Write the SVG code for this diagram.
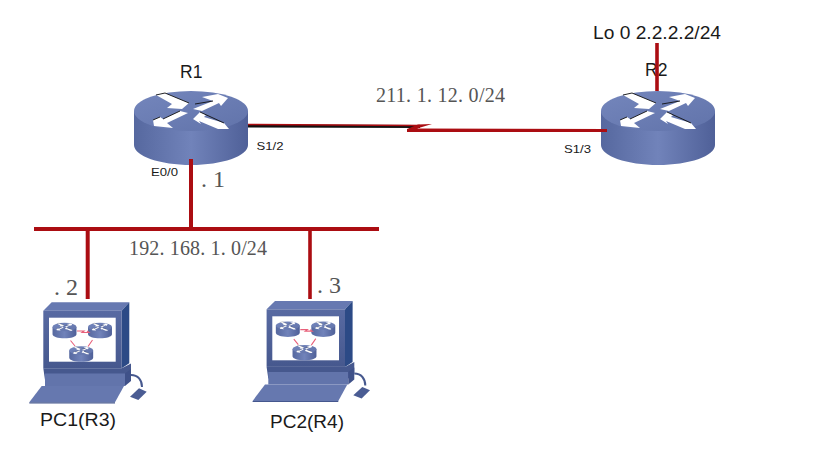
<svg xmlns="http://www.w3.org/2000/svg" xmlns:xlink="http://www.w3.org/1999/xlink" width="829" height="463" viewBox="0 0 829 463">
<style>
.sans{font-family:"Liberation Sans",Arial,sans-serif;fill:#1a1a1a}
.serif{font-family:"Liberation Serif","Times New Roman",serif;fill:#555}
.link{fill:none;stroke:#ab0d12;stroke-linecap:butt;stroke-linejoin:miter}
.edge{fill:none;stroke:#111;stroke-width:.9}
</style>
<defs>
<linearGradient id="side" x1="0" y1="0" x2="1" y2="0">
<stop offset="0" stop-color="#56689f"/><stop offset=".5" stop-color="#7183ba"/><stop offset="1" stop-color="#4f6098"/>
</linearGradient>
<linearGradient id="top" x1="0" y1="0" x2="1" y2="1">
<stop offset="0" stop-color="#7486bc"/><stop offset="1" stop-color="#6173aa"/>
</linearGradient>
<linearGradient id="face" x1="0" y1="0" x2="0" y2="1">
<stop offset="0" stop-color="#586aa2"/><stop offset="1" stop-color="#46588e"/>
</linearGradient>
<g id="router">
<path d="M-57 0V34C-57 45-31 54 0 54S57 45 57 34V0Z" fill="url(#side)"/>
<ellipse cx="0" cy="0" rx="57" ry="20" fill="url(#top)"/>
<path d="M-35-16L-26-18L-2-8L-9-2L-24-3L-19-7Z" fill="#fff"/>
<path d="M37-13L27-17L11-14L22-10L2-2L11 0L28-8L30-5Z" fill="#fff"/>
<path d="M-38 9L-31 6L-28 8L-11 0L-3 2L-24 12L-18 17L-37 15Z" fill="#fff"/>
<path d="M2 8L9 1L15 4L13 6L33 12L38 18L27 18L8 10L10 13Z" fill="#fff"/>
<path class="edge" d="M-35-16L-26-18L-2-8M-38 9L-31 6M-28 8L-11 0M9 1L33 12M4-7L22-10"/>
</g>
<g id="pc">
<path d="M43.3 310.7L51.7 302.3H129.3L121.7 310.7Z" fill="#6779b1"/>
<path d="M121.7 310.7L129.3 302.3V363.3L121.7 368.3Z" fill="#2c4a86"/>
<rect x="43.3" y="310.7" width="78.4" height="57.6" fill="url(#face)"/>
<rect x="49" y="317.700" width="66.700" height="44" fill="#fff"/>
<path d="M43.3 368.300H121.700L131 363.500V375L125 380H45Z" fill="#46588e"/>
<path d="M45 373.500H125V386H45Z" fill="#6274ab"/>
<path d="M125 373.500L131 369V381L125 386Z" fill="#3f5189"/>
<path d="M29.300 402.300L41.700 386H124L115 402.300Z" fill="#6678af"/>
<path d="M29.300 402.300H115V403.500H29.300Z" fill="#45578e"/>
<path d="M131 375C138 375 142 380 142 387" fill="none" stroke="#46588e" stroke-width="2"/>
<path d="M130 396.700L139 388.300L146.700 391.700L138.300 400Z" fill="#4a5c93"/>
<use xlink:href="#router" href="#router" transform="translate(64.500 327) scale(.21)"/>
<use xlink:href="#router" href="#router" transform="translate(100 327) scale(.21)"/>
<use xlink:href="#router" href="#router" transform="translate(81.200 350.500) scale(.21)"/>
<path d="M77 331H84L82 332.500H89L87 331M70.500 340.500L75 346M92.500 340L88 346.500" fill="none" stroke="#e8607a" stroke-width="1.100"/>
</g>
</defs>
<g id="R1">
<use xlink:href="#router" href="#router" transform="translate(191 111)"/>
<text class="sans" x="180" y="78" font-size="17.500">R1</text>
<text class="sans" x="256.500" y="150" font-size="11" textLength="27" lengthAdjust="spacingAndGlyphs">S1/2</text>
<text class="sans" x="151" y="176" font-size="11" textLength="27" lengthAdjust="spacingAndGlyphs">E0/0</text>
<text class="serif" x="201" y="187" font-size="24">. 1</text>
</g>
<g id="R2">
<use xlink:href="#router" href="#router" transform="translate(658 111)"/>
<text class="sans" x="645" y="76" font-size="17.500">R2</text>
<text class="sans" x="564" y="153" font-size="11" textLength="27" lengthAdjust="spacingAndGlyphs">S1/3</text>
<text class="sans" x="593" y="39" font-size="17.500" textLength="128" lengthAdjust="spacingAndGlyphs">Lo 0 2.2.2.2/24</text>
</g>
<g id="PC1">
<use xlink:href="#pc" href="#pc"/>
<text class="sans" x="40" y="426" font-size="18" textLength="76" lengthAdjust="spacingAndGlyphs">PC1(R3)</text>
<text class="serif" x="54" y="295" font-size="24">. 2</text>
</g>
<g id="PC2">
<use xlink:href="#pc" href="#pc" transform="translate(223.300 -1.400)"/>
<text class="sans" x="270" y="428" font-size="18" textLength="74" lengthAdjust="spacingAndGlyphs">PC2(R4)</text>
<text class="serif" x="317" y="293" font-size="24">. 3</text>
</g>
<g id="connectors">
<path d="M248 126L420 126.500" fill="none" stroke="#111" stroke-width="3"/>
<path d="M248 124.500L420 125.500" class="link" stroke-width="1.500"/>
<path d="M432 124L418 124.500L407 129V132H607V129L417 128.500Z" fill="#ab0d12"/>
<path d="M191 159V229" class="link" stroke-width="4"/>
<path d="M34 229H379" class="link" stroke-width="4"/>
<path d="M87.700 229V299" class="link" stroke-width="4"/>
<path d="M310 229V299" class="link" stroke-width="3.600"/>
<path d="M657 43V91" class="link" stroke-width="3.600"/>
</g>
<g id="labels">
<text class="serif" x="376" y="102" font-size="20" textLength="129" lengthAdjust="spacing">211. 1. 12. 0/24</text>
<text class="serif" x="129" y="255" font-size="20" textLength="138" lengthAdjust="spacing">192. 168. 1. 0/24</text>
</g>
</svg>
